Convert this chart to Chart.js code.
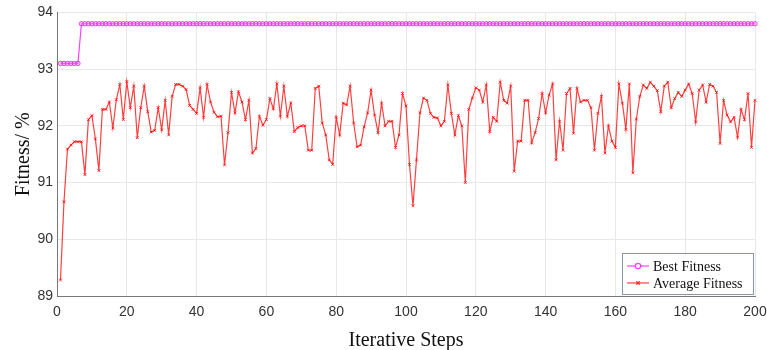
<!DOCTYPE html>
<html>
<head>
<meta charset="utf-8">
<script src="https://cdn.jsdelivr.net/npm/chart.js@4.4.0/dist/chart.umd.min.js"></script>
<style>
  html, body { margin: 0; padding: 0; background: #fff; }
  #wrap { width: 767px; height: 350px; }
</style>
</head>
<body>
<div id="wrap"><canvas id="chart" width="767" height="350"></canvas></div>
<script>
"use strict";

// 1: data
const seriesNames = ["Best Fitness", "Average Fitness"];
const xTicks = [0, 20, 40, 60, 80, 100, 120, 140, 160, 180, 200];
const yTicks = [89, 90, 91, 92, 93, 94];

const bestFitness = [
	93.1, 93.1, 93.1, 93.1, 93.1, 93.1, 93.8, 93.8, 93.8, 93.8, 93.8, 93.8, 93.8, 93.8, 93.8, 93.8, 93.8, 93.8, 93.8, 93.8,
	93.8, 93.8, 93.8, 93.8, 93.8, 93.8, 93.8, 93.8, 93.8, 93.8, 93.8, 93.8, 93.8, 93.8, 93.8, 93.8, 93.8, 93.8, 93.8, 93.8,
	93.8, 93.8, 93.8, 93.8, 93.8, 93.8, 93.8, 93.8, 93.8, 93.8, 93.8, 93.8, 93.8, 93.8, 93.8, 93.8, 93.8, 93.8, 93.8, 93.8,
	93.8, 93.8, 93.8, 93.8, 93.8, 93.8, 93.8, 93.8, 93.8, 93.8, 93.8, 93.8, 93.8, 93.8, 93.8, 93.8, 93.8, 93.8, 93.8, 93.8,
	93.8, 93.8, 93.8, 93.8, 93.8, 93.8, 93.8, 93.8, 93.8, 93.8, 93.8, 93.8, 93.8, 93.8, 93.8, 93.8, 93.8, 93.8, 93.8, 93.8,
	93.8, 93.8, 93.8, 93.8, 93.8, 93.8, 93.8, 93.8, 93.8, 93.8, 93.8, 93.8, 93.8, 93.8, 93.8, 93.8, 93.8, 93.8, 93.8, 93.8,
	93.8, 93.8, 93.8, 93.8, 93.8, 93.8, 93.8, 93.8, 93.8, 93.8, 93.8, 93.8, 93.8, 93.8, 93.8, 93.8, 93.8, 93.8, 93.8, 93.8,
	93.8, 93.8, 93.8, 93.8, 93.8, 93.8, 93.8, 93.8, 93.8, 93.8, 93.8, 93.8, 93.8, 93.8, 93.8, 93.8, 93.8, 93.8, 93.8, 93.8,
	93.8, 93.8, 93.8, 93.8, 93.8, 93.8, 93.8, 93.8, 93.8, 93.8, 93.8, 93.8, 93.8, 93.8, 93.8, 93.8, 93.8, 93.8, 93.8, 93.8,
	93.8, 93.8, 93.8, 93.8, 93.8, 93.8, 93.8, 93.8, 93.8, 93.8, 93.8, 93.8, 93.8, 93.8, 93.8, 93.8, 93.8, 93.8, 93.8, 93.8
];

const averageFitness = [
	89.28, 90.66, 91.59, 91.66, 91.72, 91.72, 91.72, 91.14, 92.11, 92.18,
	91.77, 91.21, 92.29, 92.29, 92.42, 91.96, 92.46, 92.73, 92.11, 92.78,
	92.32, 92.70, 91.79, 92.32, 92.70, 92.25, 91.89, 91.92, 92.32, 91.93,
	92.45, 91.84, 92.52, 92.73, 92.73, 92.70, 92.64, 92.36, 92.29, 92.22,
	92.67, 92.15, 92.73, 92.42, 92.24, 92.16, 92.17, 91.31, 91.88, 92.59,
	92.23, 92.60, 92.42, 92.11, 92.45, 91.52, 91.60, 92.17, 92.01, 92.11,
	92.48, 92.30, 92.74, 92.17, 92.70, 92.17, 92.40, 91.90, 91.97, 92.00,
	92.00, 91.57, 91.57, 92.66, 92.70, 92.05, 91.84, 91.40, 91.32, 92.15,
	91.84, 92.40, 92.37, 92.70, 92.05, 91.63, 91.66, 91.98, 92.23, 92.63,
	92.19, 91.88, 92.40, 92.00, 92.08, 92.08, 91.62, 91.84, 92.57, 92.35,
	91.32, 90.59, 91.40, 92.23, 92.49, 92.45, 92.22, 92.15, 92.14, 92.00,
	92.08, 92.72, 92.22, 91.84, 92.18, 92.00, 91.00, 92.29, 92.49, 92.67,
	92.63, 92.42, 92.72, 91.90, 92.15, 92.08, 92.77, 92.45, 92.40, 92.70,
	91.20, 91.73, 91.73, 92.45, 92.45, 91.70, 91.88, 92.13, 92.57, 92.23,
	92.54, 92.74, 91.40, 92.08, 91.57, 92.57, 92.66, 91.87, 92.66, 92.42,
	92.45, 92.45, 92.32, 91.57, 92.22, 92.52, 91.52, 92.00, 91.73, 91.62,
	92.74, 92.40, 91.94, 92.74, 91.17, 92.12, 92.52, 92.72, 92.66, 92.77,
	92.70, 92.62, 92.25, 92.70, 92.77, 92.32, 92.48, 92.59, 92.52, 92.63,
	92.74, 92.57, 92.07, 92.63, 92.72, 92.42, 92.73, 92.70, 92.59, 91.69,
	92.45, 92.19, 92.07, 92.15, 91.80, 92.29, 92.11, 92.57, 91.62, 92.45
];

// 2: prepare data for chart (step number = position in the run, starting at 1)
function toPoints(values) {
	return values.map((v, i) => ({ x: i + 1, y: v }));
}

// legend box drawn inside the plot, bottom right
const insideLegend = {
	id: "insideLegend",
	afterDraw(chart) {
		const ctx = chart.ctx;
		const area = chart.chartArea;
		const w = 131, h = 41;
		const x0 = area.right - 2 - w;
		const y0 = area.bottom - 2 - h;
		ctx.save();
		ctx.fillStyle = "#fff";
		ctx.fillRect(x0, y0, w, h);
		ctx.strokeStyle = "#8a94a8";
		ctx.lineWidth = 1;
		ctx.strokeRect(x0 + 0.5, y0 + 0.5, w, h);
		ctx.font = "14px 'Liberation Serif', 'DejaVu Serif', serif";
		ctx.textBaseline = "middle";
		chart.data.datasets.forEach((ds, i) => {
			const cy = y0 + 13 + i * 17;
			ctx.strokeStyle = ds.borderColor;
			ctx.lineWidth = 1.2;
			ctx.beginPath();
			ctx.moveTo(x0 + 5, cy);
			ctx.lineTo(x0 + 27, cy);
			ctx.stroke();
			Chart.helpers.drawPoint(ctx, {
				pointStyle: ds.pointStyle,
				radius: ds.pointRadius + 0.5,
				borderWidth: 1
			}, x0 + 16, cy);
			ctx.fillStyle = "#111";
			ctx.fillText(ds.label, x0 + 31, cy + 1);
		});
		ctx.restore();
	}
};

// 3: create the chart
const tickFont = { family: "'Liberation Sans', Arial, sans-serif", size: 14 };
const titleFont = { family: "'Liberation Serif', 'Times New Roman', serif", size: 20 };

new Chart(document.getElementById("chart"), {
	type: "line",
	data: {
		datasets: [{
			label: seriesNames[0],
			data: toPoints(bestFitness),
			borderColor: "rgba(255, 0, 255, 0.75)",
			backgroundColor: "rgba(255, 150, 255, 0.4)",
			borderWidth: 1.2,
			pointStyle: "circle",
			pointRadius: 2.2,
			pointBorderWidth: 1,
			clip: false
		}, {
			label: seriesNames[1],
			data: toPoints(averageFitness),
			borderColor: "rgba(255, 0, 0, 0.75)",
			backgroundColor: "rgba(255, 0, 0, 0.75)",
			borderWidth: 1.2,
			pointStyle: "crossRot",
			pointRadius: 2,
			pointBorderWidth: 1,
			clip: false
		}]
	},
	options: {
		responsive: false,
		animation: false,
		layout: { padding: { top: 10, right: 0, left: 0, bottom: 0 } },
		plugins: {
			legend: { display: false },
			tooltip: { enabled: false }
		},
		scales: {
			x: {
				type: "linear",
				min: xTicks[0],
				max: xTicks[xTicks.length - 1],
				afterBuildTicks(scale) { scale.ticks = xTicks.map(v => ({ value: v })); },
				afterFit(scale) {
					scale.height = 54;
					scale.paddingLeft = 0;
					scale.paddingRight = 12;
				},
				ticks: { color: "#333", font: tickFont, padding: 8, maxRotation: 0 },
				grid: { color: "#e8e8e8", drawTicks: false },
				border: { display: true, color: "#777" },
				title: { display: true, text: "Iterative Steps", color: "#111", font: titleFont, padding: { top: 11, bottom: -3 } }
			},
			y: {
				min: yTicks[0],
				max: yTicks[yTicks.length - 1],
				afterBuildTicks(scale) { scale.ticks = yTicks.map(v => ({ value: v })); },
				afterFit(scale) { scale.width = 57; },
				ticks: { color: "#333", font: tickFont, padding: 4 },
				grid: { color: "#e8e8e8", drawTicks: false },
				border: { display: true, color: "#777" },
				title: { display: true, text: "Fitness/ %", color: "#111", font: titleFont, padding: { top: 12, bottom: 2 } }
			}
		}
	},
	plugins: [insideLegend]
});
</script>
</body>
</html>
